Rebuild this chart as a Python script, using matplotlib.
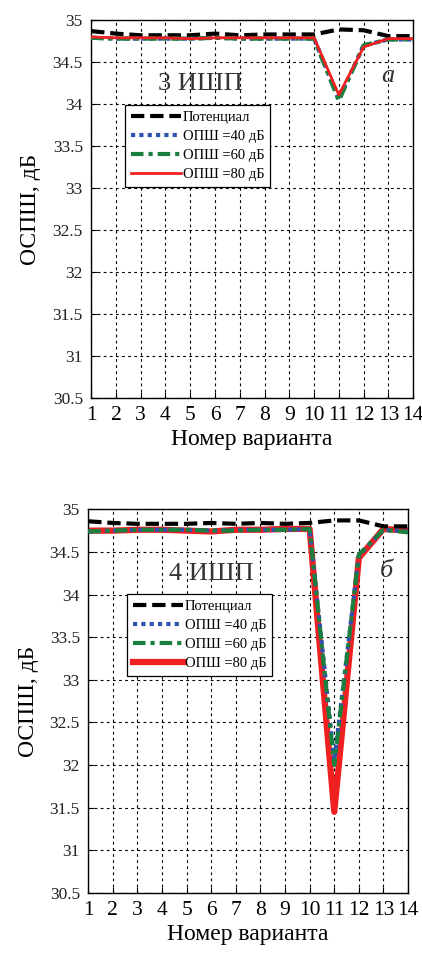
import matplotlib.pyplot as plt
import numpy as np

plt.rcParams['font.family'] = ['Liberation Serif', 'DejaVu Serif']

# Номер варианта
variants = np.arange(1, 15)

# panel a: 3 ИШП
pot_a = [34.87, 34.84, 34.82, 34.82, 34.82, 34.84, 34.82, 34.83, 34.83, 34.83, 34.89, 34.88, 34.81, 34.81]
opsh40_a = [34.79, 34.78, 34.78, 34.78, 34.78, 34.79, 34.78, 34.78, 34.78, 34.78, 34.06, 34.70, 34.77, 34.77]
opsh60_a = [34.79, 34.78, 34.78, 34.78, 34.78, 34.79, 34.78, 34.78, 34.78, 34.78, 34.04, 34.70, 34.77, 34.77]
opsh80_a = [34.80, 34.79, 34.79, 34.79, 34.78, 34.79, 34.79, 34.79, 34.79, 34.79, 34.11, 34.68, 34.78, 34.78]

# panel б: 4 ИШП
pot_b = [34.86, 34.84, 34.83, 34.83, 34.83, 34.84, 34.83, 34.84, 34.83, 34.84, 34.87, 34.87, 34.80, 34.80]
opsh40_b = [34.74, 34.75, 34.76, 34.76, 34.76, 34.75, 34.76, 34.76, 34.76, 34.77, 32.05, 34.46, 34.76, 34.74]
opsh60_b = [34.74, 34.75, 34.76, 34.76, 34.76, 34.75, 34.75, 34.76, 34.76, 34.77, 32.00, 34.47, 34.76, 34.73]
opsh80_b = [34.75, 34.75, 34.76, 34.76, 34.75, 34.74, 34.76, 34.76, 34.77, 34.77, 31.45, 34.43, 34.77, 34.75]

labels = ['Потенциал', 'ОПШ =40 дБ', 'ОПШ =60 дБ', 'ОПШ =80 дБ']
yticks = [30.5, 31, 31.5, 32, 32.5, 33, 33.5, 34, 34.5, 35]

fig = plt.figure(figsize=(4.22, 9.61), dpi=100)
ax1 = fig.add_axes([0.216, 0.586, 0.763, 0.393])
ax2 = fig.add_axes([0.209, 0.071, 0.758, 0.399])


def draw(ax, pot, s40, s60, s80, red_lw, red_z, title, letter, tpos, lpos, legpos):
    ax.plot(variants, pot, color='black', ls=(0, (3.2, 1.4)), lw=3.0, label=labels[0], zorder=3)
    ax.plot(variants, s40, color='#3050b0', ls=(0, (1, 1)), lw=3.0, label=labels[1], zorder=3)
    ax.plot(variants, s60, color='#1a8040', ls=(0, (3, 1.2, 1, 1.2)), lw=3.0, label=labels[2], zorder=3)
    ax.plot(variants, s80, color='#f02020', ls='-', lw=red_lw, label=labels[3], zorder=red_z)
    ax.set_xlim(1, 14)
    ax.set_ylim(30.5, 35)
    ax.set_xticks(variants)
    ax.set_yticks(yticks)
    ax.set_yticklabels([f'{v:g}' for v in yticks])
    ax.tick_params(axis='x', labelsize=15.5, length=4, direction='in', pad=6)
    ax.tick_params(axis='y', labelsize=12.5, length=4, direction='in', pad=6,
                   labelcolor='#222222')
    ax.grid(True, color='black', ls=(0, (2.5, 3)), lw=0.8)
    for s in ax.spines.values():
        s.set_linewidth(1.0)
    ax.set_xlabel('Номер варианта', fontsize=17, labelpad=3)
    ax.set_ylabel('ОСПШ, дБ', fontsize=17, labelpad=8)
    ax.text(tpos[0], tpos[1], title, transform=ax.transAxes, fontsize=19,
            ha='center', va='center', color='#333333')
    ax.text(lpos[0], lpos[1], letter, transform=ax.transAxes, fontsize=19,
            style='italic', ha='center', va='center', color='#333333')
    leg = ax.legend(loc='upper left', bbox_to_anchor=legpos, fontsize=10.5,
                    handlelength=3.4, handletextpad=0.15, borderpad=0.4,
                    labelspacing=0.4, fancybox=False, framealpha=1,
                    edgecolor='black', borderaxespad=0)
    leg.get_frame().set_linewidth(0.9)
    leg.set_zorder(5)


draw(ax1, pot_a, opsh40_a, opsh60_a, opsh80_a, 2.0, 4, '3 ИШП', 'а',
     (0.34, 0.832), (0.92, 0.852), (0.106, 0.775))
draw(ax2, pot_b, opsh40_b, opsh60_b, opsh80_b, 4.5, 2.5, '4 ИШП', 'б',
     (0.384, 0.832), (0.934, 0.84), (0.122, 0.779))

fig.savefig('out.png', dpi=100)
